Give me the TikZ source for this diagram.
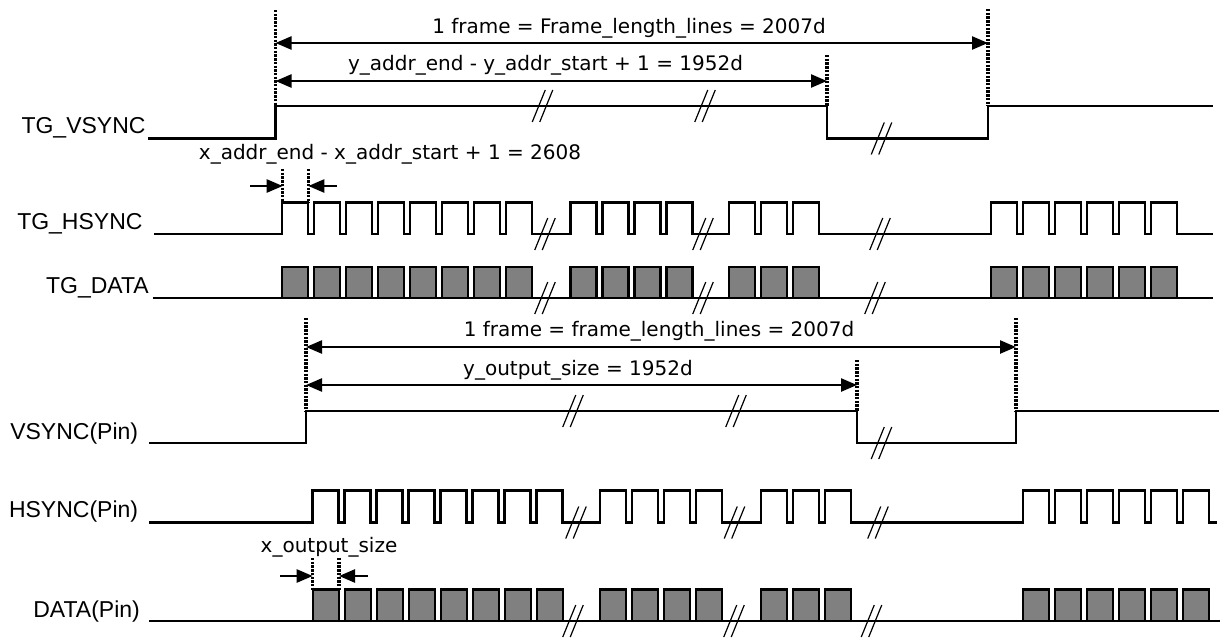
\documentclass[tikz,border=0pt]{standalone}
\usepackage{fontspec}
\setmainfont{Liberation Sans}
\newfontfamily\annfont{DejaVu Sans}
\usetikzlibrary{arrows.meta}
\definecolor{boxgray}{HTML}{808080}
\tikzset{
  sig/.style={line width=2.6pt, line join=miter},
  dotv/.style={line width=3.2pt, dash pattern=on 2.4pt off 1.3pt},
  dimarr/.style={line width=2.4pt, -{Triangle[length=16pt,width=13pt]}},
  dimboth/.style={line width=2.4pt, {Triangle[length=16pt,width=13pt]}-{Triangle[length=16pt,width=13pt]}},
  brkline/.style={line width=1.2pt},
  dbox/.style={line width=2.4pt, fill=boxgray, draw=black},
  lab/.style={font=\fontsize{23}{27}\selectfont, inner sep=0pt, anchor=base east},
  ann/.style={font=\annfont\fontsize{20}{24}\selectfont, inner sep=0pt, anchor=base},
}
\newcommand\brkmark[2]{%
  \draw[brkline] ({#1-3.75-6.5},{#2+16}) -- ({#1-3.75+6.5},{#2-16});
  \draw[brkline] ({#1+3.75-6.5},{#2+16}) -- ({#1+3.75+6.5},{#2-16});}
\newcommand\dboxes[4]{%
  \foreach \pp in {1,...,#2}{%
    \draw[dbox] ({#1+(\pp-1)*32},#3) rectangle ({#1+(\pp-1)*32+26},#4);}}
\begin{document}
\begin{tikzpicture}[x=1pt,y=-1pt]
\useasboundingbox (0,0) rectangle (1220,640);
\fill[white] (0,0) rectangle (1220,640);

% ---------------- labels ----------------
\node[lab] (lvs) at (145.7,133.3) {TG\_VSYNC};
\node[lab] (lhs) at (142.7,229.3) {TG\_HSYNC};
\node[lab] (lda) at (149,293.3) {TG\_DATA};
\node[lab] (lpvs) at (138.3,439.3) {VSYNC(Pin)};
\node[lab] (lphs) at (138.3,517.3) {HSYNC(Pin)};
\node[lab] (lpda) at (140,617.3) {DATA(Pin)};

% ---------------- TG_VSYNC ----------------
\draw[sig] (148,138.5) -- (275.5,138.5) -- (275.5,106) -- (827,106) -- (827,138.5)
  -- (988,138.5) -- (988,106) -- (1213,106);
\brkmark{542.5}{106}\brkmark{705}{106}\brkmark{881.5}{138.5}

\coordinate (d1t) at (275.5,10);  \coordinate (d1b) at (275.5,106);
\coordinate (d2t) at (827,55);    \coordinate (d2b) at (827,106);
\coordinate (d3t) at (988,9);     \coordinate (d3b) at (988,106);
\draw[dotv] (d1t) -- (d1b);
\draw[dotv] (d2t) -- (d2b);
\draw[dotv] (d3t) -- (d3b);
\coordinate (fa) at (275.5,43); \coordinate (fb) at (988,43);
\coordinate (ya) at (275.5,81); \coordinate (yb) at (827,81);
\draw[dimboth] (fa) -- (fb);
\draw[dimboth] (ya) -- (yb);
\node[ann] (t1) at (629,33.3) {1 frame = Frame\_length\_lines = 2007d};
\node[ann] (t2) at (545.5,70) {y\_addr\_end - y\_addr\_start + 1 = 1952d};

% ---------------- TG_HSYNC ----------------
\draw[sig] (154,234)
  \foreach \pp in {0,...,7}{ -- ({282+\pp*32},234) -- ({282+\pp*32},202.5) -- ({308+\pp*32},202.5) -- ({308+\pp*32},234)}
  \foreach \pp in {0,...,3}{ -- ({570.5+\pp*32},234) -- ({570.5+\pp*32},202.5) -- ({596.5+\pp*32},202.5) -- ({596.5+\pp*32},234)}
  \foreach \pp in {0,...,2}{ -- ({729+\pp*32},234) -- ({729+\pp*32},202.5) -- ({755+\pp*32},202.5) -- ({755+\pp*32},234)}
  \foreach \pp in {0,...,5}{ -- ({991+\pp*32},234) -- ({991+\pp*32},202.5) -- ({1017+\pp*32},202.5) -- ({1017+\pp*32},234)}
  -- (1213,234);
\brkmark{545}{234}\brkmark{703}{234}\brkmark{880}{234}

\node[ann] (t3) at (390,159.3) {x\_addr\_end - x\_addr\_start + 1 = 2608};
\coordinate (xa1t) at (282.7,169); \coordinate (xa1b) at (282.7,202.5);
\coordinate (xa2t) at (308.3,169); \coordinate (xa2b) at (308.3,202.5);
\draw[dotv] (xa1t) -- (xa1b);
\draw[dotv] (xa2t) -- (xa2b);
\coordinate (xal) at (250,186); \coordinate (xale) at (282.7,186);
\coordinate (xar) at (337,186); \coordinate (xare) at (308.3,186);
\draw[dimarr] (xal) -- (xale);
\draw[dimarr] (xar) -- (xare);

% ---------------- TG_DATA ----------------
\draw[sig] (152.7,298) -- (1213,298);
\dboxes{282}{8}{298}{267}
\dboxes{570.5}{4}{298}{267}
\dboxes{729}{3}{298}{267}
\dboxes{991}{6}{298}{267}
\brkmark{545}{298}\brkmark{703}{298}\brkmark{875}{298}

% ---------------- VSYNC(Pin) ----------------
\draw[sig] (149,443) -- (306,443) -- (306,411) -- (857,411) -- (857,443)
  -- (1016,443) -- (1016,411) -- (1219,411);
\brkmark{573}{411}\brkmark{736}{411}\brkmark{881.5}{443}

\coordinate (p1t) at (306,318);  \coordinate (p1b) at (306,411);
\coordinate (p2t) at (857,360);  \coordinate (p2b) at (857,411);
\coordinate (p3t) at (1016,318); \coordinate (p3b) at (1016,411);
\draw[dotv] (p1t) -- (p1b);
\draw[dotv] (p2t) -- (p2b);
\draw[dotv] (p3t) -- (p3b);
\coordinate (pfa) at (306,347); \coordinate (pfb) at (1016,347);
\coordinate (pya) at (306,385); \coordinate (pyb) at (857,385);
\draw[dimboth] (pfa) -- (pfb);
\draw[dimboth] (pya) -- (pyb);
\node[ann] (t4) at (659,336.7) {1 frame = frame\_length\_lines = 2007d};
\node[ann] (t5) at (578,375) {y\_output\_size = 1952d};

% ---------------- HSYNC(Pin) ----------------
\draw[sig] (149,522.5)
  \foreach \pp in {0,...,7}{ -- ({312.7+\pp*32},522.5) -- ({312.7+\pp*32},490.5) -- ({338.7+\pp*32},490.5) -- ({338.7+\pp*32},522.5)}
  \foreach \pp in {0,...,3}{ -- ({600+\pp*32},522.5) -- ({600+\pp*32},490.5) -- ({626+\pp*32},490.5) -- ({626+\pp*32},522.5)}
  \foreach \pp in {0,...,2}{ -- ({761+\pp*32},522.5) -- ({761+\pp*32},490.5) -- ({787+\pp*32},490.5) -- ({787+\pp*32},522.5)}
  \foreach \pp in {0,...,5}{ -- ({1023+\pp*32},522.5) -- ({1023+\pp*32},490.5) -- ({1049+\pp*32},490.5) -- ({1049+\pp*32},522.5)}
  -- (1217,522.5);
\brkmark{576}{522.5}\brkmark{734.5}{522.5}\brkmark{878}{522.5}

% ---------------- DATA(Pin) ----------------
\draw[sig] (149,621) -- (1220,621);
\dboxes{312.7}{8}{621}{589.5}
\dboxes{600}{4}{621}{589.5}
\dboxes{761}{3}{621}{589.5}
\dboxes{1023}{6}{621}{589.5}
\brkmark{573}{621}\brkmark{734}{621}\brkmark{871.5}{621}

\node[ann] (t6) at (329,552.7) {x\_output\_size};
\coordinate (xo1t) at (312.7,558); \coordinate (xo1b) at (312.7,589.5);
\coordinate (xo2t) at (339,558);   \coordinate (xo2b) at (339,589.5);
\draw[dotv] (xo1t) -- (xo1b);
\draw[dotv] (xo2t) -- (xo2b);
\coordinate (xol) at (280,576); \coordinate (xole) at (312.7,576);
\coordinate (xor) at (368,576); \coordinate (xore) at (339,576);
\draw[dimarr] (xol) -- (xole);
\draw[dimarr] (xor) -- (xore);
\end{tikzpicture}
\end{document}
